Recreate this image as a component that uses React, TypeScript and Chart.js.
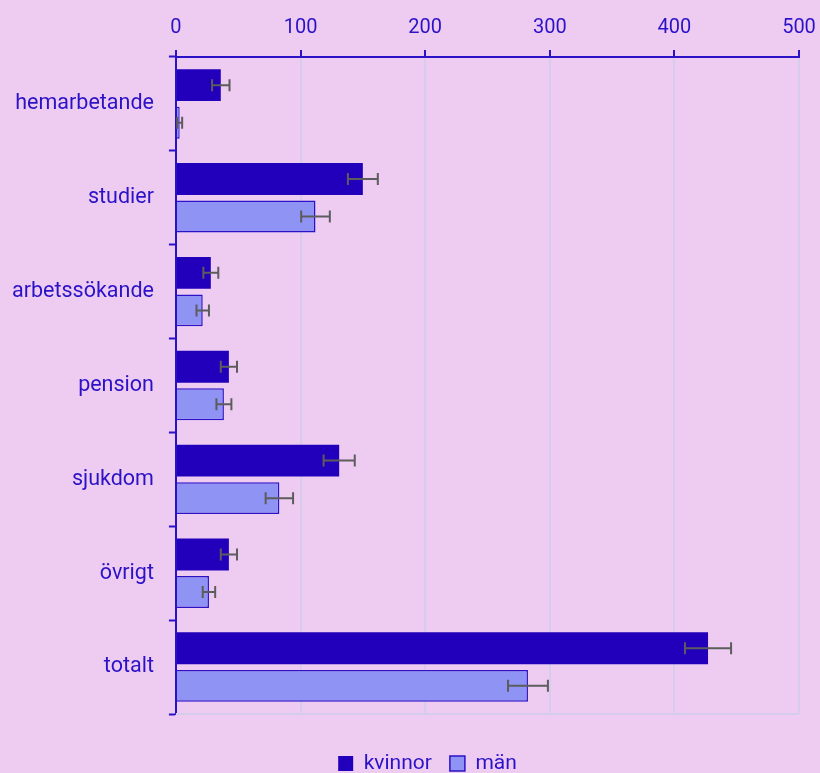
import React, { useEffect, useRef } from "react";
import { Chart, registerables } from "chart.js";

Chart.register(...registerables);

const categories = ["hemarbetande", "studier", "arbetssökande", "pension", "sjukdom", "övrigt", "totalt"];
const kvinnor = [36, 150, 28, 42.5, 131, 42.5, 427];
const kvinnorErr = [7, 12, 6, 6.5, 12.5, 6.5, 18.5];
const man = [3, 112, 21.5, 38.5, 83, 26.5, 282.5];
const manErr = [2, 11.5, 5, 6, 11, 5, 16];
const xTicks = [0, 100, 200, 300, 400, 500];

const BG = "#EECCF2";
const TEXT = "#2B12C6";
const GRID = "#D6CCEC";

const errorBars = {
  id: "errorBars",
  afterDatasetsDraw(chart: any) {
    const ctx = chart.ctx;
    const xs = chart.scales.x;
    const errs = [kvinnorErr, manErr];
    ctx.save();
    ctx.strokeStyle = "#5C5C5C";
    ctx.lineWidth = 2;
    chart.data.datasets.forEach((ds: any, di: number) => {
      const meta = chart.getDatasetMeta(di);
      meta.data.forEach((bar: any, i: number) => {
        const v = ds.data[i];
        const e = errs[di][i];
        const x1 = xs.getPixelForValue(v - e);
        const x2 = xs.getPixelForValue(v + e);
        const y = bar.y;
        const h = 6;
        ctx.beginPath();
        ctx.moveTo(x1, y);
        ctx.lineTo(x2, y);
        ctx.moveTo(x1, y - h);
        ctx.lineTo(x1, y + h);
        ctx.moveTo(x2, y - h);
        ctx.lineTo(x2, y + h);
        ctx.stroke();
      });
    });
    ctx.restore();
  },
};

const LEGEND_SHIFT_Y = 21;
const LEGEND_SHIFT_X = 19;

const frame = {
  id: "frame",
  afterLayout(chart: any) {
    if (chart.legend) {
      chart.legend.top += LEGEND_SHIFT_Y;
      chart.legend.bottom += LEGEND_SHIFT_Y;
      chart.legend.left += LEGEND_SHIFT_X;
      chart.legend.right += LEGEND_SHIFT_X;
    }
  },
  beforeDraw(chart: any) {
    const ctx = chart.ctx;
    ctx.save();
    ctx.fillStyle = BG;
    ctx.fillRect(0, 0, chart.width, chart.height);
    ctx.restore();
  },
  beforeDatasetsDraw(chart: any) {
    const ctx = chart.ctx;
    const a = chart.chartArea;
    ctx.save();
    ctx.strokeStyle = GRID;
    ctx.lineWidth = 2;
    ctx.beginPath();
    ctx.moveTo(a.left, a.bottom);
    ctx.lineTo(a.right, a.bottom);
    ctx.stroke();
    ctx.restore();
  },
};

export default function App() {
  const ref = useRef<HTMLCanvasElement>(null);
  useEffect(() => {
    document.body.style.margin = "0";
    document.body.style.background = BG;
    const chart = new Chart(ref.current!, {
      type: "bar",
      data: {
        labels: categories,
        datasets: [
          {
            label: "kvinnor",
            data: kvinnor,
            backgroundColor: "#2200BB",
            borderColor: "#2200BB",
            borderWidth: 0,
          },
          {
            label: "män",
            data: man,
            backgroundColor: "#8F94F4",
            borderColor: "#2B12C6",
            borderWidth: 1.5,
          },
        ],
      },
      options: {
        indexAxis: "y",
        animation: false,
        responsive: false,
        maintainAspectRatio: false,
        datasets: { bar: { categoryPercentage: 0.8, barPercentage: 0.85 } },
        layout: { padding: { top: 6, right: 0, bottom: 10, left: -3 } },
        scales: {
          x: {
            position: "top",
            min: 0,
            max: 500,
            afterBuildTicks: (s: any) => {
              s.ticks = xTicks.map((v) => ({ value: v }));
            },
            afterFit: (s: any) => {
              s.paddingRight = 21;
            },
            ticks: { color: TEXT, font: { family: "Roboto", size: 20 }, padding: 10 },
            grid: {
              color: GRID,
              lineWidth: 2,
              tickColor: TEXT,
              tickLength: 7,
              tickWidth: 2,
            },
            border: { color: TEXT, width: 2 },
          },
          y: {
            ticks: { color: TEXT, font: { family: "Roboto", size: 21.5 }, padding: 15 },
            grid: {
              drawOnChartArea: false,
              tickColor: TEXT,
              tickLength: 7,
              tickWidth: 2,
              offset: true,
            },
            border: { color: TEXT, width: 2 },
          },
        },
        plugins: {
          legend: {
            position: "bottom",
            labels: {
              color: TEXT,
              font: { family: "Roboto", size: 21 },
              boxWidth: 15,
              boxHeight: 15,
              padding: 18,
            },
          },
          tooltip: { enabled: false },
        },
      },
      plugins: [frame, errorBars],
    });
    return () => chart.destroy();
  }, []);
  return <canvas ref={ref} width={820} height={773} style={{ display: "block" }} />;
}
